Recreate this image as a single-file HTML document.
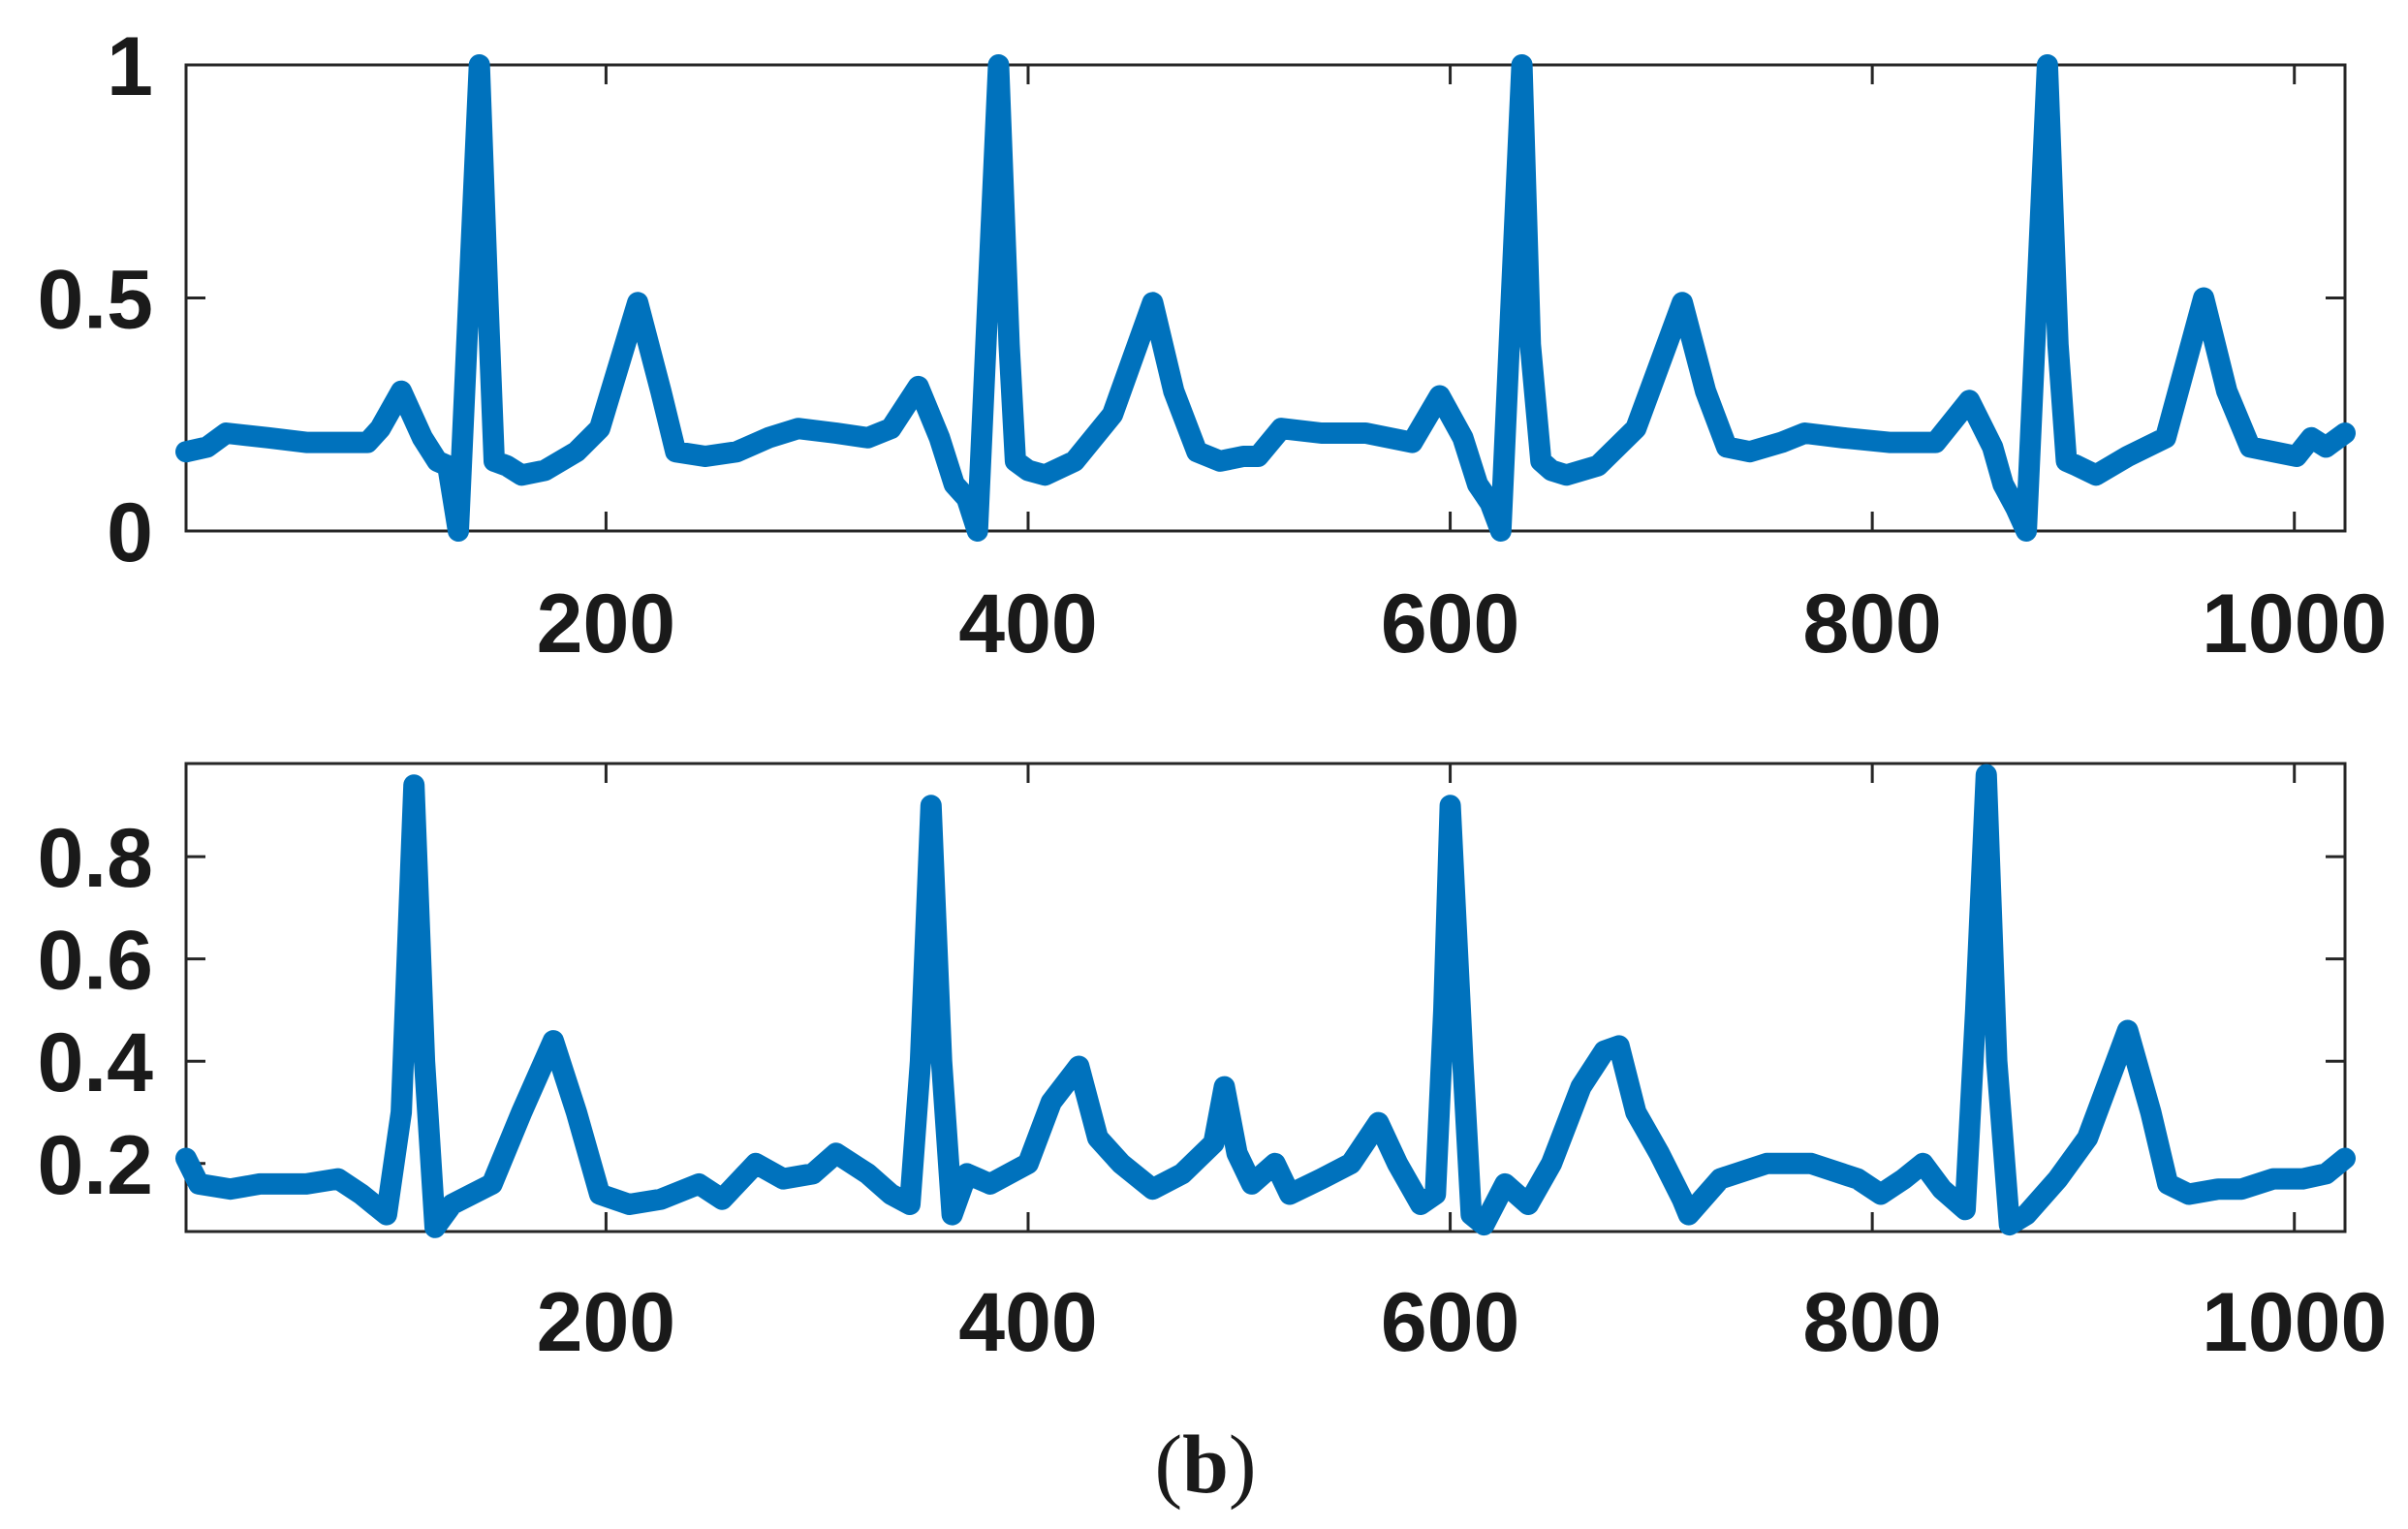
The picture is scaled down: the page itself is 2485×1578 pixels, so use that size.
<!DOCTYPE html>
<html><head><meta charset="utf-8"><style>
html,body{margin:0;padding:0;background:#fff;}
svg text{font-family:"Liberation Sans",Arial,sans-serif;font-weight:bold;fill:#1a1a1a;}
</style></head><body>
<svg id="fig" width="2485" height="1573" viewBox="0 0 2485 1573" xmlns="http://www.w3.org/2000/svg">
<text x="1244" y="1540" text-anchor="middle" style="font-family:'Liberation Serif',serif;font-weight:normal;font-size:86px">(<tspan style="font-weight:bold">b</tspan>)</text>
</svg>
<script>
const xTicks=[200,400,600,800,1000];
const topYTicks=[0,0.5,1];
const topYLabels=["0","0.5","1"];
const botYTicks=[0.2,0.4,0.6,0.8];
const botYLabels=["0.2","0.4","0.6","0.8"];
const topX=[1,11,20,40,58,87,93,103,113,120,125,130,140,144,147,153,160,171,186,197,215,226,233,247,262,277,291,309,324,335,348,358,365,371,376,386,391,394,400,408,422,440,459,469,480,491,502,509,520,539,560,582,595,606,613,619,624,634,638,643,648,655,670,688,710,721,731,742,757,768,786,808,830,846,857,862,868,873,883,888,892,897,906,921,939,957,968,979,990,1001,1008,1015,1024];
const topY=[0.17,0.18,0.21,0.2,0.19,0.19,0.22,0.3,0.2,0.15,0.14,0.0,1.0,0.5,0.15,0.14,0.12,0.13,0.17,0.22,0.49,0.3,0.17,0.16,0.17,0.2,0.22,0.21,0.2,0.22,0.31,0.2,0.1,0.07,0.0,1.0,0.4,0.15,0.13,0.12,0.15,0.25,0.49,0.3,0.17,0.15,0.16,0.16,0.22,0.21,0.21,0.19,0.29,0.2,0.1,0.06,0.0,1.0,0.4,0.15,0.13,0.12,0.14,0.22,0.49,0.3,0.18,0.17,0.19,0.21,0.2,0.19,0.19,0.28,0.18,0.1,0.05,0.0,1.0,0.4,0.15,0.14,0.12,0.16,0.2,0.5,0.3,0.18,0.17,0.16,0.2,0.18,0.21];
const botX=[1,7,22,36,58,73,84,96,103,109,114,119,127,146,160,175,186,197,211,226,244,255,271,284,298,309,324,335,344,349,354,359,364,371,382,400,411,424,433,444,459,473,488,493,499,506,517,524,539,553,566,575,586,593,597,600,606,610,616,626,637,648,662,673,680,688,699,710,713,728,750,771,793,804,815,824,833,844,849,854,859,865,873,888,902,921,932,940,950,964,975,990,1004,1015,1024];
const botY=[0.21,0.16,0.15,0.16,0.16,0.17,0.14,0.1,0.3,0.94,0.4,0.075,0.12,0.16,0.3,0.44,0.3,0.14,0.12,0.13,0.16,0.13,0.2,0.17,0.18,0.22,0.18,0.14,0.12,0.4,0.9,0.4,0.1,0.18,0.16,0.2,0.32,0.39,0.25,0.2,0.15,0.18,0.24,0.35,0.22,0.16,0.2,0.14,0.17,0.2,0.28,0.2,0.12,0.14,0.5,0.9,0.4,0.1,0.08,0.16,0.12,0.2,0.35,0.42,0.43,0.3,0.22,0.13,0.1,0.17,0.2,0.2,0.17,0.14,0.17,0.2,0.15,0.11,0.5,0.96,0.4,0.08,0.1,0.17,0.25,0.46,0.3,0.16,0.14,0.15,0.15,0.17,0.17,0.18,0.21];

const NS='http://www.w3.org/2000/svg';
const svg=document.getElementById('fig');
function mk(tag,attrs,parent){const e=document.createElementNS(NS,tag);for(const k in attrs)e.setAttribute(k,attrs[k]);(parent||svg).appendChild(e);return e;}
const L=192,R=2420,XMIN=1,XMAX=1024;
function sx(v){return L+(v-XMIN)/(XMAX-XMIN)*(R-L);}
function panel(id,top,bot,ymin,ymax,yt,yl,xs,ys,labY){
  const sy=v=>bot-(v-ymin)/(ymax-ymin)*(bot-top);
  const g=mk('g',{});
  
  
  const box=mk('rect',{x:L,y:top,width:R-L,height:bot-top,fill:'none',stroke:'#262626','stroke-width':3},g);
  
  
  xTicks.forEach(t=>{
    const x=sx(t);
    mk('line',{x1:x,y1:bot,x2:x,y2:bot-20,stroke:'#262626','stroke-width':3},g);
    mk('line',{x1:x,y1:top,x2:x,y2:top+20,stroke:'#262626','stroke-width':3},g);
    const tx=mk('text',{x:x,y:labY,'text-anchor':'middle','font-size':86},g);
    
    
    tx.textContent=String(t);
  });
  yt.forEach((t,i)=>{
    const y=sy(t);
    mk('line',{x1:L,y1:y,x2:L+20,y2:y,stroke:'#262626','stroke-width':3},g);
    mk('line',{x1:R,y1:y,x2:R-20,y2:y,stroke:'#262626','stroke-width':3},g);
    const tx=mk('text',{x:158,y:y+31,'text-anchor':'end','font-size':86},g);
    
    
    tx.textContent=yl[i];
  });
  const pts=xs.map((x,i)=>sx(x).toFixed(1)+','+sy(ys[i]).toFixed(1)).join(' ');
  const pl=mk('polyline',{points:pts,fill:'none',stroke:'#0072BD','stroke-width':22,'stroke-linejoin':'round','stroke-linecap':'round'},g);
  
  
}
panel('top',67,548,0,1,topYTicks,topYLabels,topX,topY,673);
panel('bottom',788,1271,0.067,0.982,botYTicks,botYLabels,botX,botY,1394);
</script>
</body></html>
